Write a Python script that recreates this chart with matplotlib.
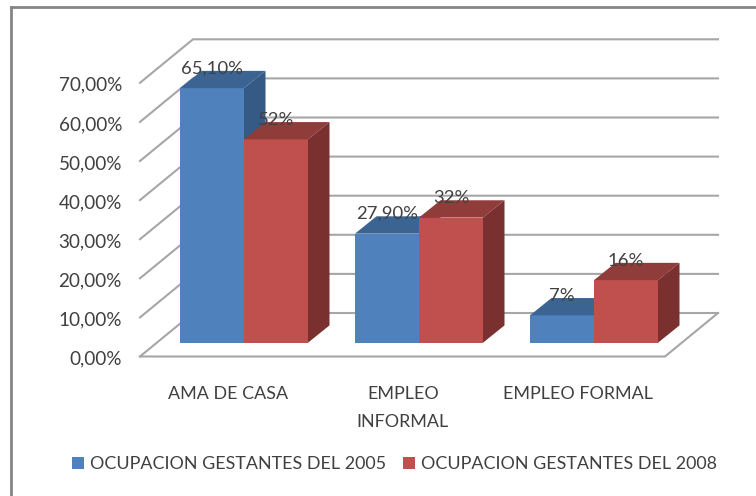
import matplotlib
matplotlib.use("Agg")
import matplotlib.pyplot as plt
from matplotlib.patches import Polygon

W, H = 756, 496
categories = ["AMA DE CASA", "EMPLEO\nINFORMAL", "EMPLEO FORMAL"]
series_names = ["OCUPACION GESTANTES DEL 2005", "OCUPACION GESTANTES DEL 2008"]
values_2005 = [65.1, 27.9, 7.0]
values_2008 = [52.0, 32.0, 16.0]
labels_2005 = ["65,10%", "27,90%", "7%"]
labels_2008 = ["52%", "32%", "16%"]
y_ticks = [0, 10, 20, 30, 40, 50, 60, 70]
y_tick_labels = ["0,00%", "10,00%", "20,00%", "30,00%", "40,00%", "50,00%", "60,00%", "70,00%"]

PX_X = 175.0       # pixels per category
PX_Y = 3.91        # pixels per percent
X0, Y0 = 244.0, 342.7  # pixel position of category 0, value 0


def dx(px):
    return px / PX_X


def dy(px):
    return px / PX_Y


plt.rcParams["font.family"] = ["Lato", "DejaVu Sans"]
TEXT = "#404040"
GRID = "#A6A6A6"
FS = 12.9

fig = plt.figure(figsize=(W / 100, H / 100), dpi=100, facecolor="white")
ax = fig.add_axes([0, 0, 1, 1])
ax.set_xlim(-dx(X0), dx(W - X0))
ax.set_ylim(-dy(H - Y0), dy(Y0))
ax.axis("off")

# frame of the chart area (open towards the bottom and right crop)
for fx, fy in (([11, 11], [H, 7]), ([11, W], [7, 7])):
    fig.add_artist(plt.Line2D([v / W for v in fx], [1 - v / H for v in fy], color="#858585", lw=2.0))

# walls and floor of the 3D box
front_x = dx(140 - X0)
front_r = dx(665 - X0)
front_y = -dy(356.5 - Y0)
box_dx = dx(53)
box_dy = dy(43.5)
for t in y_ticks:
    yf = front_y + t
    yb = yf + box_dy
    ax.plot([front_x, front_x + box_dx, front_r + box_dx], [yf, yb, yb], color=GRID, lw=1.5, zorder=1,
            solid_joinstyle="miter")
    ax.text(dx(122 - X0), yf - dy(1.0), y_tick_labels[y_ticks.index(t)], ha="right", va="center_baseline",
            fontsize=FS + 0.7, color=TEXT)
ax.plot([front_x, front_r, front_r + box_dx], [front_y, front_y, front_y + box_dy], color=GRID, lw=1.5, zorder=1,
        solid_joinstyle="miter")

# bars
bw = dx(64)
ddx = dx(21.5)
ddy = dy(17.3)
styles = [("#4F81BD", "#3B6493", "#345A85"), ("#C0504D", "#8F3C3A", "#7A302E")]
for s, (vals, labs, name) in enumerate(zip((values_2005, values_2008), (labels_2005, labels_2008), series_names)):
    front, top, side = styles[s]
    for i, (v, lab) in enumerate(zip(vals, labs)):
        left = i - bw + s * bw
        z = 3 + i * 2 + s
        ax.bar(left, v, width=bw, align="edge", color=front, lw=0, zorder=z,
               label=name if i == 0 else None)
        ax.add_patch(Polygon([(left, v), (left + bw, v), (left + bw + ddx, v + ddy), (left + ddx, v + ddy)],
                             closed=True, fc=top, lw=0, zorder=z))
        ax.add_patch(Polygon([(left + bw, 0), (left + bw + ddx, ddy), (left + bw + ddx, v + ddy), (left + bw, v)],
                             closed=True, fc=side, lw=0, zorder=z))
        ax.annotate(lab, (left + bw / 2, v), xytext=(0, 21 * 0.72), textcoords="offset points",
                    ha="center", va="center_baseline", fontsize=FS + 0.4, color=TEXT, zorder=20)

# category labels
for i, c in enumerate(categories):
    ax.text(i - dx(16), -dy(386 - Y0), c, ha="center", va="top", fontsize=FS, color=TEXT,
            linespacing=1.96)

leg = ax.legend(loc="center left", bbox_to_anchor=(63 / W, 1 - 464 / H), ncol=2, frameon=False,
                fontsize=FS, labelcolor=TEXT, handlelength=0.67, handleheight=0.67,
                handletextpad=0.33, columnspacing=0.95, borderpad=0, borderaxespad=0.5)

fig.savefig("out.png", dpi=100, facecolor="white")
